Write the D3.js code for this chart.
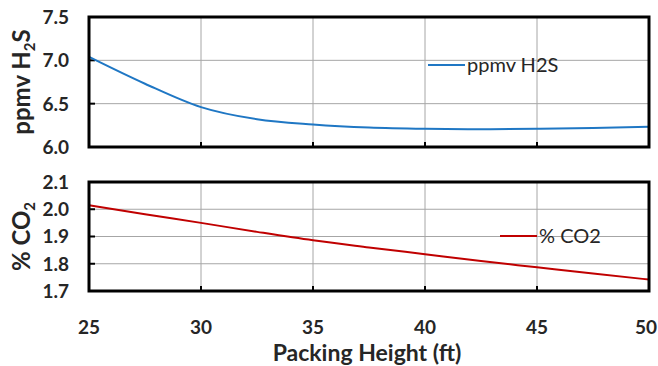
<!DOCTYPE html>
<html><head><meta charset="utf-8">
<script src="https://cdn.jsdelivr.net/npm/d3@7"></script>
<style>body{margin:0;background:#fff}text{font-family:Lato,"Open Sans","Liberation Sans",sans-serif}</style>
</head><body><svg id="c" width="658" height="366"></svg>
<script>
const heights = [25, 27.5, 30, 32.5, 35, 37.5, 40, 42.5, 45, 47.5, 50];
const h2s = [7.04, 6.73, 6.46, 6.32, 6.26, 6.225, 6.21, 6.205, 6.21, 6.22, 6.235];
const co2 = [2.015, 1.982, 1.95, 1.917, 1.886, 1.86, 1.835, 1.81, 1.787, 1.764, 1.742];
const xTicks = [25, 30, 35, 40, 45, 50];
const h2sTicks = [6.0, 6.5, 7.0, 7.5];
const co2Ticks = [1.7, 1.8, 1.9, 2.0, 2.1];

const svg = d3.select("#c");
const x = d3.scaleLinear().domain([25, 50]).range([89, 649]);

function panel(top, bottom, domain, ticks, vals, color, fmt, legendX, legendY, legendText, titleParts) {
  const y = d3.scaleLinear().domain(domain).range([bottom, top]);
  const g = svg.append("g");
  g.selectAll(".gx").data(xTicks).join("line")
    .attr("x1", d => x(d)).attr("x2", d => x(d)).attr("y1", top).attr("y2", bottom)
    .attr("stroke", "#a6a6a6").attr("stroke-width", 1);
  g.selectAll(".gy").data(ticks).join("line")
    .attr("x1", 89).attr("x2", 649).attr("y1", d => y(d)).attr("y2", d => y(d))
    .attr("stroke", "#a6a6a6").attr("stroke-width", 1);
  g.selectAll(".tx").data(xTicks).join("line")
    .attr("x1", d => x(d)).attr("x2", d => x(d)).attr("y1", bottom).attr("y2", bottom - 5)
    .attr("stroke", "#000").attr("stroke-width", 2);
  g.selectAll(".ty").data(ticks).join("line")
    .attr("x1", 89).attr("x2", 95).attr("y1", d => y(d)).attr("y2", d => y(d))
    .attr("stroke", "#000").attr("stroke-width", 2);
  const line = d3.line().x((d, i) => x(heights[i])).y(d => y(d)).curve(d3.curveMonotoneX);
  g.append("path").datum(vals).attr("d", line).attr("fill", "none")
    .attr("stroke", color).attr("stroke-width", 2);
  g.append("rect").attr("x", 89).attr("y", top).attr("width", 560).attr("height", bottom - top)
    .attr("fill", "none").attr("stroke", "#000").attr("stroke-width", 3);
  g.selectAll(".yl").data(ticks).join("text")
    .attr("x", 69).attr("y", d => y(d)).attr("dy", "0.36em").attr("text-anchor", "end")
    .attr("font-size", 19).attr("font-weight", 700).attr("fill", "#262626")
    .text(d => d3.format(fmt)(d));
  g.append("line").attr("x1", legendX).attr("x2", legendX + 37).attr("y1", legendY).attr("y2", legendY)
    .attr("stroke", color).attr("stroke-width", 2);
  g.append("text").attr("x", legendX + 39).attr("y", legendY).attr("dy", "0.36em")
    .attr("font-size", 20).attr("fill", "#262626").text(legendText);
  const cy = (top + bottom) / 2;
  const t = g.append("text").attr("transform", `translate(30,${cy}) rotate(-90)`)
    .attr("text-anchor", "middle").attr("font-size", 24).attr("font-weight", 700).attr("fill", "#262626");
  titleParts.forEach(p => {
    const s = t.append("tspan").text(p[0]);
    if (p[1]) s.attr("font-size", 15).attr("dy", 5);
    else if (p[2]) s.attr("dy", -5);
  });
}

panel(17, 147, [6.0, 7.5], h2sTicks, h2s, "#1f77c4", ".1f", 428, 65, "ppmv H2S",
  [["ppmv H"], ["2", true], ["S", false, true]]);
panel(182, 291, [1.7, 2.1], co2Ticks, co2, "#c00000", ".1f", 500, 236, "% CO2",
  [["% CO"], ["2", true]]);

svg.selectAll(".xl").data(xTicks).join("text")
  .attr("x", (d, i) => i === xTicks.length - 1 ? 657 : x(d)).attr("y", 334)
  .attr("text-anchor", (d, i) => i === xTicks.length - 1 ? "end" : "middle")
  .attr("font-size", 19).attr("font-weight", 700).attr("fill", "#262626").text(d => d);
svg.append("text").attr("x", 367).attr("y", 361).attr("text-anchor", "middle")
  .attr("font-size", 23).attr("font-weight", 700).attr("fill", "#262626").text("Packing Height (ft)");
</script></body></html>
